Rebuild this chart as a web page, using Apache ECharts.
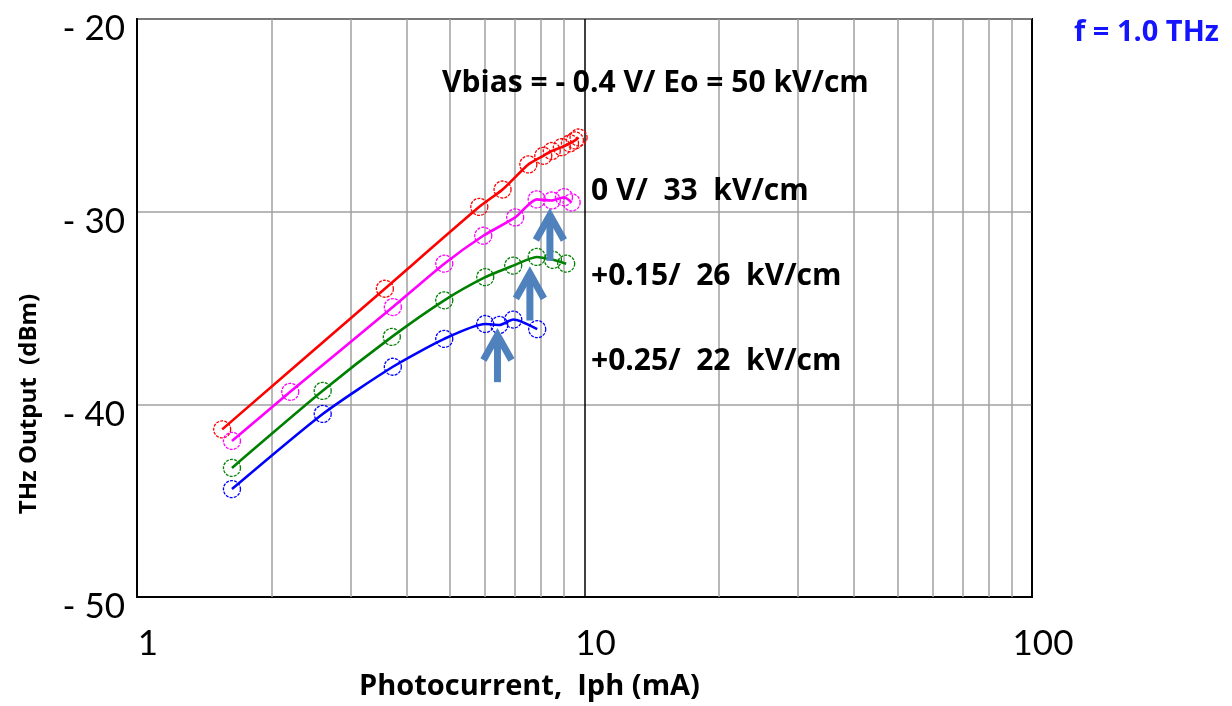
<!DOCTYPE html>
<html>
<head>
<meta charset="utf-8">
<script src="https://cdn.jsdelivr.net/npm/echarts@6/dist/echarts.min.js"></script>
<style>
  html, body { margin: 0; padding: 0; background: #ffffff; }
  #chart { width: 1232px; height: 706px; }
</style>
</head>
<body>
<div id="chart"></div>
<script>
// THz output power versus photocurrent for four bias conditions (f = 1.0 THz)
const seriesNames = ['-0.4 V / 50 kV/cm', '0 V / 33 kV/cm', '+0.15 V / 26 kV/cm', '+0.25 V / 22 kV/cm'];
const seriesColors = ['#ff0000', '#ff00ff', '#008000', '#0000ff'];

// [photocurrent (mA), THz output (dBm)]
const redData = [
  [1.55, -41.3], [3.58, -34.0], [5.82, -29.75], [6.56, -28.85], [7.49, -27.55],
  [8.09, -27.1], [8.45, -26.85], [8.9, -26.65], [9.28, -26.45], [9.52, -26.3], [9.7, -26.15]
];
const magentaData = [
  [1.63, -41.9], [2.2, -39.35], [3.73, -34.95], [4.86, -32.7], [5.94, -31.25],
  [7.0, -30.3], [7.82, -29.36], [8.45, -29.42], [9.0, -29.25], [9.36, -29.52]
];
const greenData = [
  [1.63, -43.3], [2.6, -39.3], [3.71, -36.5], [4.86, -34.6], [6.0, -33.4],
  [6.93, -32.8], [7.82, -32.35], [8.5, -32.5], [9.1, -32.7]
];
const blueData = [
  [1.63, -44.4], [2.6, -40.5], [3.73, -38.05], [4.86, -36.6], [6.0, -35.83],
  [6.45, -35.88], [6.93, -35.6], [7.84, -36.1]
];

// Arrows marking the saturation onset: [x, tip y, tail y]
const arrowData = [
  [6.39, -36.25, -38.85],
  [7.55, -33.05, -35.65],
  [8.37, -30.02, -32.55]
];

// Log-axis minor gridlines
const minorGrid = [2, 3, 4, 5, 6, 7, 8, 9, 20, 30, 40, 50, 60, 70, 80, 90];

const xTicks = [1, 10, 100];
const yTicks = [-50, -40, -30, -20];

const curveLabels = [
  { text: 'Vbias = - 0.4 V/ Eo = 50 kV/cm', x: 442, y: 82 },
  { text: '0 V/  33  kV/cm', x: 591, y: 190 },
  { text: '+0.15/  26  kV/cm', x: 591, y: 275 },
  { text: '+0.25/  22  kV/cm', x: 591, y: 360 }
];

const FONT = 'Lato, "Noto Sans", sans-serif';
const BOLD_FONT = '"Open Sans", "Noto Sans", sans-serif';

const chart = echarts.init(document.getElementById('chart'), null, { renderer: 'canvas' });

const dataSets = [redData, magentaData, greenData, blueData];

const lineSeries = dataSets.map((d, i) => ({
  name: seriesNames[i],
  type: 'line',
  data: d,
  smooth: 0.22,
  symbol: 'circle',
  symbolSize: 17,
  showSymbol: true,
  lineStyle: { color: seriesColors[i], width: 2.6 },
  itemStyle: {
    color: 'rgba(255,255,255,0)',
    borderColor: seriesColors[i],
    borderWidth: 1.3,
    borderType: [3, 1.2]
  },
  z: 5,
  silent: true,
  animation: false
}));

const option = {
  animation: false,
  backgroundColor: '#ffffff',
  grid: {
    left: 137, right: 200, top: 19, bottom: 106,
    show: true, borderColor: '#000000', borderWidth: 2, backgroundColor: 'transparent'
  },
  xAxis: {
    type: 'log',
    logBase: 10,
    min: xTicks[0],
    max: xTicks[xTicks.length - 1],
    name: 'Photocurrent,  Iph (mA)',
    nameLocation: 'middle',
    nameGap: 75,
    nameTextStyle: {
      fontFamily: BOLD_FONT, fontWeight: 'bold', fontSize: 29, color: '#000',
      padding: [0, 110, 0, 0]
    },
    axisLine: { show: true, lineStyle: { color: '#000', width: 2 } },
    axisTick: { show: false },
    axisLabel: {
      fontFamily: FONT, fontSize: 35, color: '#000', margin: 29,
      padding: [0, 0, 0, 22]
    },
    splitLine: { show: true, lineStyle: { color: '#000000', width: 1.5 } }
  },
  yAxis: {
    type: 'value',
    min: yTicks[0],
    max: yTicks[yTicks.length - 1],
    interval: 10,
    name: 'THz Output  (dBm)',
    nameLocation: 'middle',
    nameRotate: 90,
    nameGap: 96,
    nameTextStyle: {
      fontFamily: BOLD_FONT, fontWeight: 'bold', fontSize: 24, color: '#000',
      padding: [0, 192, 0, 0]
    },
    axisLine: { show: true, lineStyle: { color: '#000', width: 2 } },
    axisTick: { show: false },
    axisLabel: {
      margin: 12,
      formatter: v => '{t|- ' + Math.abs(v) + '}',
      rich: {
        t: { fontFamily: FONT, fontSize: 35, color: '#000', padding: [20, 0, 0, 0] }
      }
    },
    splitLine: { show: true, lineStyle: { color: '#a0a0a0', width: 1.5 } }
  },
  series: [
    {
      type: 'line',
      data: [],
      silent: true,
      markLine: {
        silent: true,
        symbol: 'none',
        label: { show: false },
        lineStyle: { color: '#a0a0a0', width: 1.5, type: 'solid' },
        data: minorGrid.map(v => ({ xAxis: v }))
      },
      z: 1
    },
    ...lineSeries,
    {
      type: 'custom',
      data: arrowData,
      silent: true,
      z: 6,
      renderItem: function (params, api) {
        const x = api.value(0);
        const tip = api.coord([x, api.value(1)]);
        const tail = api.coord([x, api.value(2)]);
        const headH = 28, headW = 14, lw = 7;
        const col = '#4f81bd';
        return {
          type: 'group',
          children: [
            {
              type: 'line',
              shape: { x1: tip[0], y1: tip[1] + 4, x2: tail[0], y2: tail[1] },
              style: { stroke: col, lineWidth: lw, lineCap: 'butt' }
            },
            {
              type: 'polyline',
              shape: { points: [[tip[0] - headW, tip[1] + headH], [tip[0], tip[1] + 3], [tip[0] + headW, tip[1] + headH]] },
              style: { stroke: col, lineWidth: lw, fill: null, lineJoin: 'miter', lineCap: 'butt' }
            }
          ]
        };
      }
    }
  ],
  graphic: [
    ...curveLabels.map(l => ({
      type: 'text',
      left: l.x,
      top: l.y - 14,
      z: 10,
      style: { text: l.text, fontFamily: BOLD_FONT, fontWeight: 'bold', fontSize: 30, fill: '#000' }
    })),
    {
      type: 'text',
      right: 13,
      top: 18,
      z: 10,
      style: { text: 'f = 1.0 THz', fontFamily: BOLD_FONT, fontWeight: 'bold', fontSize: 29, fill: '#1414ff' }
    }
  ]
};

chart.setOption(option);
</script>
</body>
</html>
